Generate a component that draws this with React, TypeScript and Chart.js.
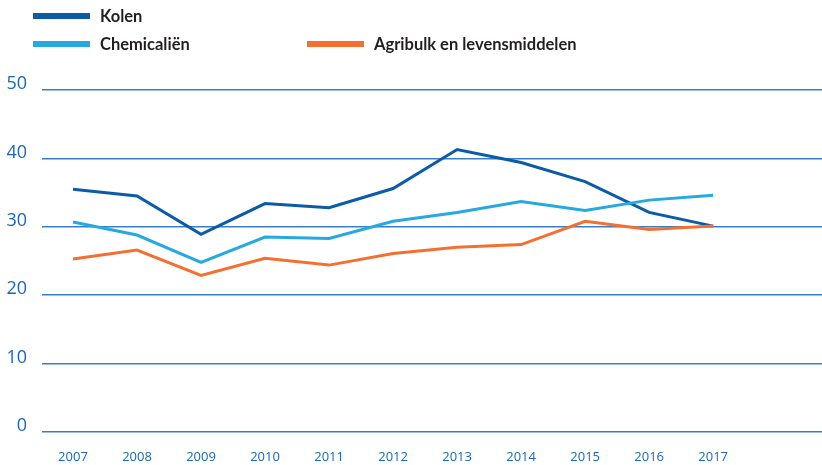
import React, { useEffect, useRef } from "react";
import { Chart, registerables } from "chart.js";

Chart.register(...registerables);

const years = [2007, 2008, 2009, 2010, 2011, 2012, 2013, 2014, 2015, 2016, 2017];
const kolen = [35.5, 34.5, 28.9, 33.4, 32.8, 35.6, 41.3, 39.4, 36.6, 32.1, 30.1];
const chemicalien = [30.7, 28.8, 24.8, 28.5, 28.3, 30.8, 32.1, 33.7, 32.4, 33.9, 34.6];
const agribulk = [25.3, 26.6, 22.9, 25.4, 24.4, 26.1, 27.0, 27.4, 30.8, 29.6, 30.1];
const yTicks = [0, 10, 20, 30, 40, 50];

const C_KOLEN = "#0b5ba7";
const C_CHEM = "#27a8e0";
const C_AGRI = "#f37032";
const C_GRID = "#3a7fc4";
const C_TICK = "#1c67b3";

const legendItems = [
  { label: "Kolen", color: C_KOLEN, x: 33, y: 16 },
  { label: "Chemicaliën", color: C_CHEM, x: 33, y: 44 },
  { label: "Agribulk en levensmiddelen", color: C_AGRI, x: 307, y: 44 },
];

const legendPlugin = {
  id: "customLegend",
  afterDraw(chart: any) {
    const ctx = chart.ctx;
    ctx.save();
    legendItems.forEach((it) => {
      ctx.fillStyle = it.color;
      ctx.fillRect(it.x, it.y - 3, 57, 6);
      ctx.fillStyle = "#231f20";
      ctx.font = "bold 16.5px Lato";
      ctx.textBaseline = "middle";
      ctx.textAlign = "left";
      ctx.fillText(it.label, it.x + 67, it.y + 1);
    });
    ctx.restore();
  },
};

export default function App() {
  const ref = useRef<HTMLCanvasElement>(null);
  useEffect(() => {
    if (!ref.current) return;
    const mk = (d: number[]) => years.map((y, i) => ({ x: y, y: d[i] }));
    const ds = (label: string, data: number[], color: string) => ({
      label,
      data: mk(data),
      borderColor: color,
      backgroundColor: color,
      borderWidth: 3,
      pointRadius: 0,
      tension: 0,
      fill: false,
    });
    const chart = new Chart(ref.current, {
      type: "line",
      data: {
        datasets: [
          ds("Agribulk en levensmiddelen", agribulk, C_AGRI),
          ds("Chemicaliën", chemicalien, C_CHEM),
          ds("Kolen", kolen, C_KOLEN),
        ],
      },
      options: {
        animation: false,
        responsive: true,
        maintainAspectRatio: false,
        layout: { padding: { top: 90, right: 0, left: 0, bottom: 0 } },
        plugins: { legend: { display: false }, tooltip: { enabled: false } },
        scales: {
          x: {
            type: "linear",
            min: 2006.516,
            max: 2018.7,
            grid: { display: false },
            border: { display: false },
            afterBuildTicks: (s: any) => {
              s.ticks = years.map((v) => ({ value: v }));
            },
            afterFit: (s: any) => {
              s.height = 33;
            },
            ticks: {
              color: C_TICK,
              font: { family: "Open Sans", size: 13 },
              padding: 9,
              maxRotation: 0,
              autoSkip: false,
              callback: (v: any) => String(v),
            },
          },
          y: {
            min: 0,
            max: 50,
            afterBuildTicks: (s: any) => {
              s.ticks = yTicks.map((v) => ({ value: v }));
            },
            afterFit: (s: any) => {
              s.width = 42;
            },
            grid: { color: C_GRID, lineWidth: 1.5, drawTicks: false },
            border: { display: false },
            ticks: {
              color: C_TICK,
              font: { family: "Open Sans", size: 18 },
              padding: 15,
              labelOffset: -6,
            },
          },
        },
      },
      plugins: [legendPlugin],
    } as any);
    return () => chart.destroy();
  }, []);
  return (
    <div style={{ position: "fixed", left: 0, top: 0, width: 822, height: 465, background: "#fff" }}>
      <canvas ref={ref} />
    </div>
  );
}
